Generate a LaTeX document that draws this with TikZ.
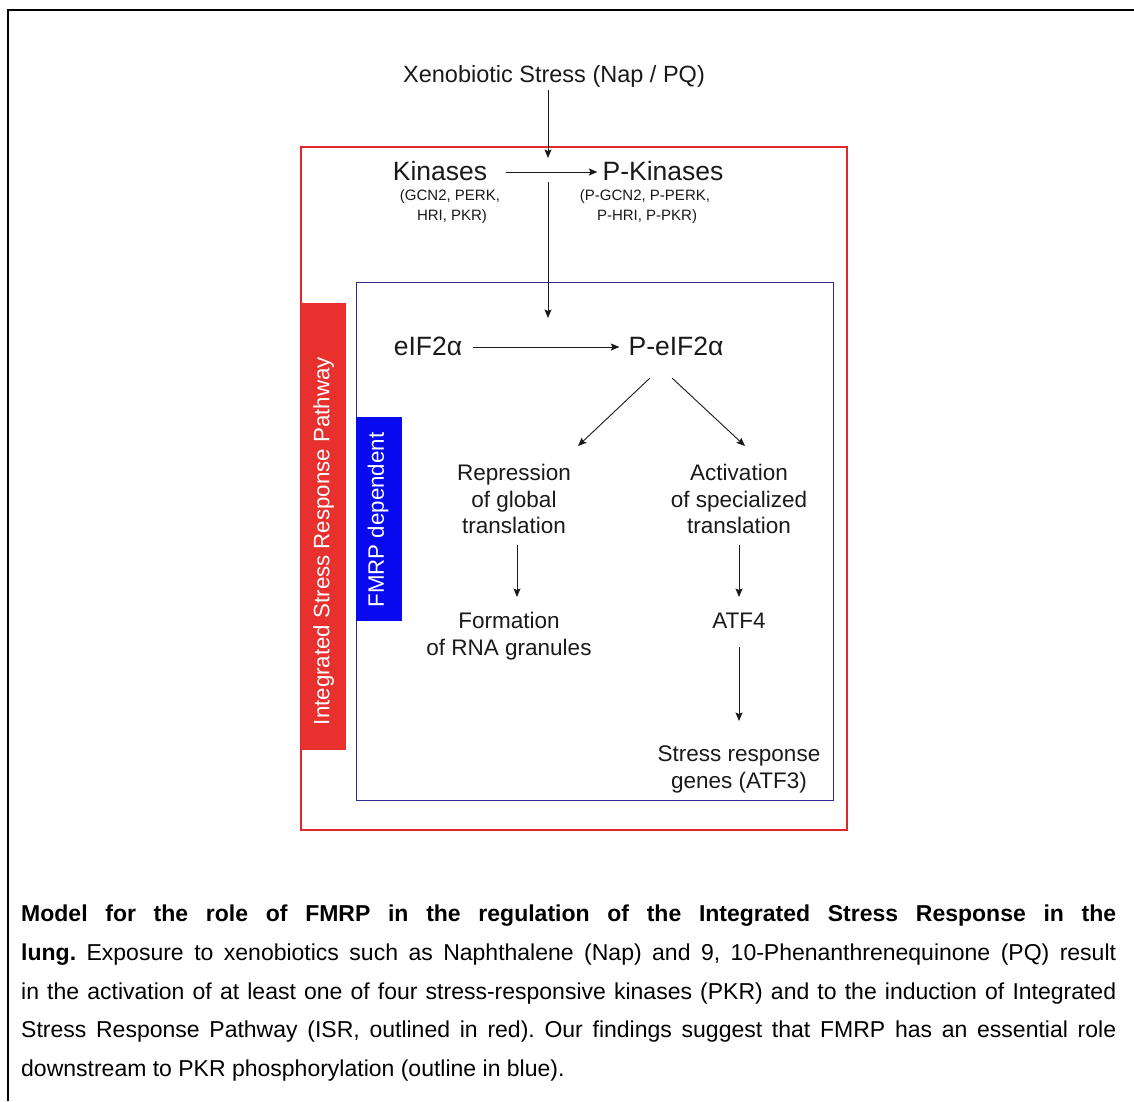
\documentclass[tikz,border=0pt]{standalone}
\usepackage{fontspec}
\setmainfont{Liberation Sans}
\usetikzlibrary{arrows.meta}
\definecolor{isrred}{HTML}{E8302F}
\definecolor{boxred}{HTML}{E0282C}
\definecolor{fmrpblue}{HTML}{0A0AF0}
\definecolor{boxblue}{HTML}{2C2C8E}
\definecolor{ink}{HTML}{1A1A1A}
\newcommand{\fs}[1]{\fontsize{#1}{#1}\selectfont}
\frenchspacing
\begin{document}
\begin{tikzpicture}[x=1pt,y=-1pt,
  arr/.style={-{Stealth[length=8.5pt,width=7pt,inset=1.5pt]}, line width=0.9pt, ink},
  lbl/.style={inner sep=0pt, anchor=base, text=ink},
  big/.style={lbl, font=\fs{26.5}},
  mid/.style={lbl, font=\fs{22.5}},
  small/.style={lbl, font=\fs{15}},
  bartext/.style={inner sep=0pt, text=white, font=\fs{22.3}, rotate=90},
  captext/.style={inner sep=0pt, anchor=base west, text=black, font=\fs{23}}]
\useasboundingbox (0,0) rectangle (1134,1101);
\fill[white] (0,0) rectangle (1134,1101);
% outer frame (top and left edges only)
\draw[line width=2.2pt] (8,1101) -- (8,10) -- (1134,10);
% ISR box and bar
\draw[boxred, line width=1.2pt] (301,147) rectangle (847,830);
\fill[isrred] (301,303) rectangle (346,750);
\node[bartext] (isr) at (323.5,541) {Integrated Stress Response Pathway};
% FMRP box and bar
\draw[boxblue, line width=1pt] (356,282) rectangle (833,800);
\fill[fmrpblue] (356,417) rectangle (402,621);
\node[bartext] (fmrp) at (378,520) {FMRP dependent};
% texts
\node[lbl, font=\fs{23.5}] (xeno) at (554,82) {Xenobiotic Stress (Nap / PQ)};
\node[big] (kin) at (440,180) {Kinases};
\node[big] (pkin) at (663,180) {P-Kinases};
\node[small] (kins1) at (450,200) {(GCN2, PERK,};
\node[small] (kins2) at (452,220) {HRI, PKR)};
\node[small] (pkins1) at (645,200) {(P-GCN2, P-PERK,};
\node[small] (pkins2) at (647,220) {P-HRI, P-PKR)};
\node[big] (eif) at (428,355) {eIF2α};
\node[big] (peif) at (676,355) {P-eIF2α};
\node[mid] (rep1) at (514,480) {Repression};
\node[mid] (rep2) at (514,507) {of global};
\node[mid] (rep3) at (514,533) {translation};
\node[mid] (act1) at (739,480) {Activation};
\node[mid] (act2) at (739,507) {of specialized};
\node[mid] (act3) at (739,533) {translation};
\node[mid] (form1) at (509,628) {Formation};
\node[mid] (form2) at (509,655) {of RNA granules};
\node[mid] (atf) at (739,628) {ATF4};
\node[mid] (srg1) at (739,761) {Stress response};
\node[mid] (srg2) at (739,788) {genes (ATF3)};
% connector end points
\coordinate (xs) at (548,90);
\coordinate (xe) at (548,158);
\coordinate (vs) at (548,182);
\coordinate (ve) at (548,318);
\coordinate (dls) at (650,378);
\coordinate (dle) at (578,446);
\coordinate (drs) at (672,378);
\coordinate (dre) at (745,446);
% connectors
\draw[arr] (xs) -- (xe);
\draw[arr] ([xshift=19pt]kin.east |- 0,172) -- ([xshift=-5pt]pkin.west |- 0,172);
\draw[arr] (vs) -- (ve);
\draw[arr] ([xshift=11pt]eif.east |- 0,347) -- ([xshift=-9pt]peif.west |- 0,347);
\draw[arr] (dls) -- (dle);
\draw[arr] (drs) -- (dre);
\draw[arr] (517,545) coordinate (ls) -- (517,597) coordinate (le);
\draw[arr] (739,545) coordinate (rs) -- (739,597) coordinate (re);
\draw[arr] (739,647) coordinate (as) -- (739,721) coordinate (ae);
% caption
\node[captext] (c1) at (21,921) {\makebox[1095pt][s]{\bfseries Model for the role of FMRP in the regulation of the Integrated Stress Response in the}};
\node[captext] (c2) at (21,960) {\makebox[1095pt][s]{\textbf{lung.} Exposure to xenobiotics such as Naphthalene (Nap) and 9, 10-Phenanthrenequinone (PQ) result}};
\node[captext] (c3) at (21,999) {\makebox[1095pt][s]{in the activation of at least one of four stress-responsive kinases (PKR) and to the induction of Integrated}};
\node[captext] (c4) at (21,1037) {\makebox[1095pt][s]{Stress Response Pathway (ISR, outlined in red). Our findings suggest that FMRP has an essential role}};
\node[captext] (c5) at (21,1076) {downstream to PKR phosphorylation (outline in blue).};
\end{tikzpicture}
\end{document}
